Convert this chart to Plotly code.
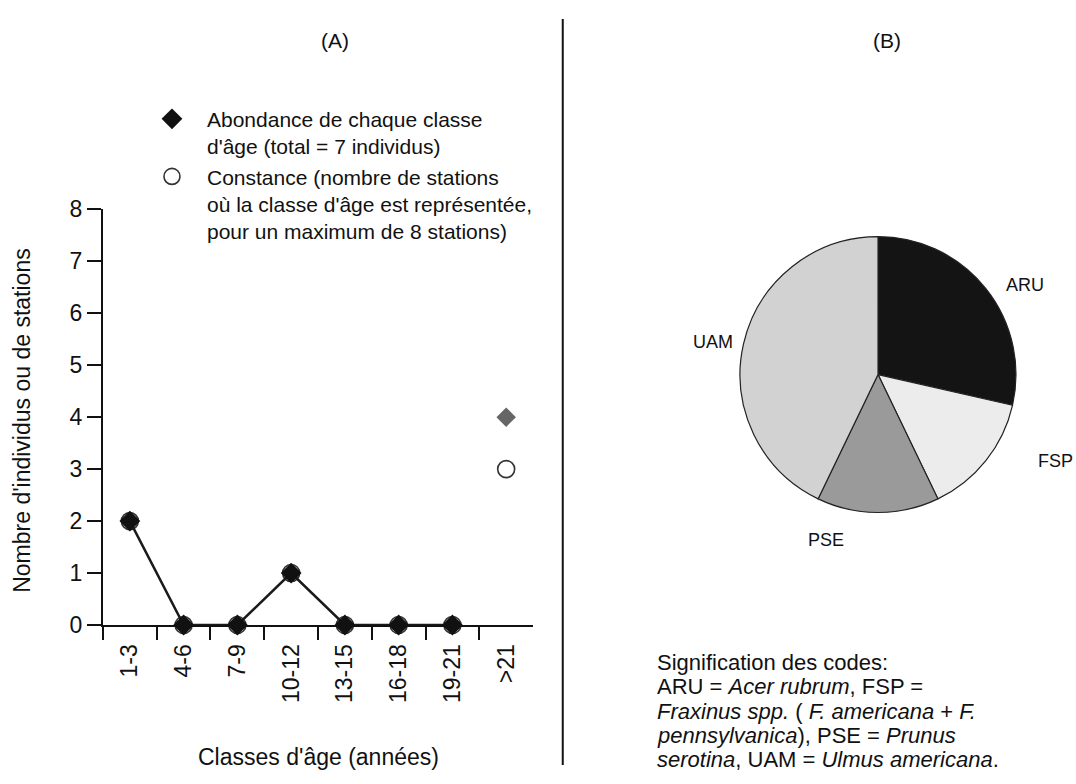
import plotly.graph_objects as go

# Panel A: age-class structure
age_classes = ["1-3", "4-6", "7-9", "10-12", "13-15", "16-18", "19-21", ">21"]
abondance = [2, 0, 0, 1, 0, 0, 0, 4]
constance = [2, 0, 0, 1, 0, 0, 0, 3]

# Panel B: species composition
species = ["ARU", "FSP", "PSE", "UAM"]
species_counts = [2, 1, 1, 3]
species_colors = ["#141414", "#ececec", "#9a9a9a", "#d2d2d2"]

FONT = "Liberation Sans, Arial, Helvetica, sans-serif"
W, H = 1076, 784
n_line = len(age_classes) - 1  # the line joins the classes up to 19-21

fig = go.Figure()

# Constance: open circles drawn under the diamonds
fig.add_trace(go.Scatter(
    x=age_classes, y=constance, mode="markers",
    name="Constance (nombre de stations<br>où la classe d'âge est représentée,<br>pour un maximum de 8 stations)",
    marker=dict(symbol="circle", size=17, color="white",
                line=dict(color="#333333", width=1.6)),
    cliponaxis=False, legendrank=2,
))

# Abondance: connecting line, then the diamonds
fig.add_trace(go.Scatter(
    x=age_classes[:n_line], y=abondance[:n_line], mode="lines",
    line=dict(color="#1a1a1a", width=2.5),
    cliponaxis=False, showlegend=False, hoverinfo="skip",
))
fig.add_trace(go.Scatter(
    x=age_classes[:n_line], y=abondance[:n_line], mode="markers",
    name="Abondance de chaque classe<br>d'âge (total = 7 individus)",
    marker=dict(symbol="diamond", size=16, color="#111111"),
    cliponaxis=False, legendrank=1,
))
fig.add_trace(go.Scatter(
    x=age_classes[n_line:], y=abondance[n_line:], mode="markers",
    marker=dict(symbol="diamond", size=15, color="#666666"),
    cliponaxis=False, showlegend=False,
))

fig.add_trace(go.Pie(
    labels=species, values=species_counts, sort=False,
    direction="clockwise", rotation=0,
    marker=dict(colors=species_colors, line=dict(color="#222222", width=1.2)),
    textinfo="none", hoverinfo="label+value", showlegend=False,
    domain=dict(x=[0.682, 0.950], y=[0.341, 0.705]),
))

fig.update_layout(
    width=W, height=H,
    margin=dict(l=0, r=0, t=0, b=0),
    paper_bgcolor="white", plot_bgcolor="white",
    font=dict(family=FONT, size=21, color="#111111"),
    xaxis=dict(
        domain=[0.0957, 0.4954], type="category", range=[-0.5, 7.5],
        tickson="boundaries", ticks="outside", ticklen=13, tickwidth=2,
        tickcolor="#111111", tickangle=-90, tickfont=dict(size=23),
        ticklabelstandoff=8,
        showline=True, linecolor="#111111", linewidth=2,
        showgrid=False, zeroline=False,
    ),
    yaxis=dict(
        domain=[0.1926, 0.741], range=[0, 8], dtick=1,
        ticks="outside", ticklen=14, tickwidth=2, tickcolor="#111111",
        showline=True, linecolor="#111111", linewidth=2,
        showgrid=False, zeroline=False, tickfont=dict(size=23),
    ),
    legend=dict(
        x=0.1273, y=0.887, xanchor="left", yanchor="top",
        font=dict(size=21), valign="top", tracegroupgap=4,
        itemwidth=60, bgcolor="rgba(0,0,0,0)",
    ),
)

# Axis titles
fig.add_annotation(text="Nombre d'individus ou de stations", textangle=-90,
                   x=22 / W, y=0.462, xref="paper", yref="paper",
                   xanchor="center", yanchor="middle",
                   showarrow=False, font=dict(size=23))
fig.add_annotation(text="Classes d'âge (années)", x=318 / W, y=1 - 770 / H,
                   xref="paper", yref="paper", xanchor="center", yanchor="middle",
                   showarrow=False, font=dict(size=23))

# Panel titles and separator
fig.add_annotation(text="(A)", x=335 / W, y=1 - 28 / H, xref="paper", yref="paper",
                   xanchor="center", yanchor="middle",
                   showarrow=False, font=dict(size=21))
fig.add_annotation(text="(B)", x=887 / W, y=1 - 28 / H, xref="paper", yref="paper",
                   xanchor="center", yanchor="middle",
                   showarrow=False, font=dict(size=21))
fig.add_shape(type="line", xref="paper", yref="paper",
              x0=0.523, x1=0.523, y0=0.008, y1=0.992,
              line=dict(color="#111111", width=2))

# Pie slice labels
pie_labels = {"ARU": (1025, 281), "FSP": (1055, 463), "PSE": (826, 545), "UAM": (713, 340)}
for name, (px, py) in pie_labels.items():
    fig.add_annotation(text=name, x=px / W, y=1 - py / H, xref="paper", yref="paper",
                       xanchor="center", yanchor="middle",
                       showarrow=False, font=dict(size=18))

# Code meanings
code_lines = [
    "Signification des codes:",
    "ARU = <i>Acer rubrum</i>, FSP =",
    "<i>Fraxinus spp.</i> ( <i>F. americana</i> + <i>F.</i>",
    "<i>pennsylvanica</i>), PSE = <i>Prunus</i>",
    "<i>serotina</i>, UAM = <i>Ulmus americana</i>.",
]
for i, line in enumerate(code_lines):
    fig.add_annotation(text=line, x=655 / W, y=1 - (672 + 25 * i) / H,
                       xref="paper", yref="paper", xanchor="left", yanchor="middle",
                       showarrow=False, font=dict(size=22))

fig.write_html("out.html")
